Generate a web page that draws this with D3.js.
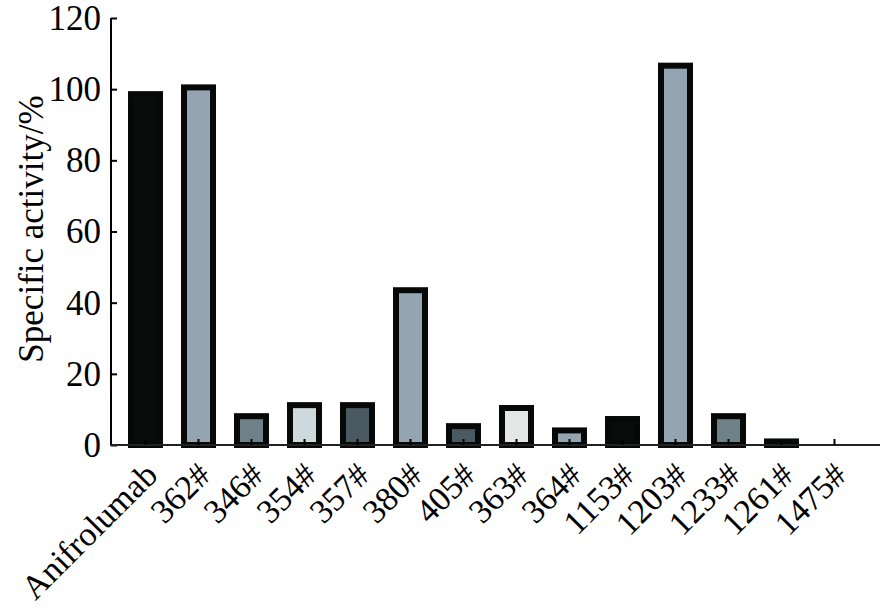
<!DOCTYPE html>
<html><head><meta charset="utf-8">
<script src="https://cdn.jsdelivr.net/npm/d3@7"></script>
<style>body{margin:0;background:#fff}svg{display:block}text{font-family:"Liberation Serif","Times New Roman",serif;fill:#000}</style>
</head><body><svg id="c" width="887" height="612"></svg>
<script>
const categories = ["Anifrolumab","362#","346#","354#","357#","380#","405#","363#","364#","1153#","1203#","1233#","1261#","1475#"];
const values = [98.6,100.5,8.1,11.2,11.2,43.5,5.3,10.4,4.1,7.3,106.6,8.1,1.0,0];
const fills = ["#0a0c0b","#94a4b0","#6e8088","#cdd9da","#4b5a62","#94a4b0","#4b5a62","#e3e8e7","#94a4b0","#0a0c0b","#94a4b0","#6e8088","#94a4b0","#94a4b0"];
const yTicks = [0,20,40,60,80,100,120];

const svg = d3.select("#c");
const y = d3.scaleLinear().domain([0,120]).range([445,18]);
const x = d3.scaleBand().domain(categories).range([119,861]).padding(0);
const barW = 29;

// bars
svg.append("g").selectAll("rect").data(categories.map((c,i)=>({c,v:values[i],f:fills[i]})).filter(d=>d.v>0))
  .join("rect")
  .attr("x", d=>x(d.c)+x.bandwidth()/2-barW/2)
  .attr("width", barW)
  .attr("y", d=>y(d.v))
  .attr("height", d=>y(0)-y(d.v))
  .attr("fill", d=>d.f)
  .attr("stroke", "#060908")
  .attr("stroke-width", 6);

// y axis
const ya = svg.append("g").attr("transform","translate(111,0)")
  .call(d3.axisRight(y).tickValues(yTicks).tickSize(6).tickFormat(""));
ya.select(".domain").remove();
ya.selectAll("line").attr("stroke","#000").attr("stroke-width",2);
svg.append("line").attr("x1",111).attr("x2",111).attr("y1",y(120)).attr("y2",446).attr("stroke","#000").attr("stroke-width",2);
svg.append("g").selectAll("text").data(yTicks).join("text")
  .attr("x",101).attr("y",d=>y(d)).attr("dy","0.34em")
  .attr("text-anchor","end").attr("font-size",35).text(d=>d);

// x axis
svg.append("line").attr("x1",110).attr("x2",880).attr("y1",445).attr("y2",445).attr("stroke","#222").attr("stroke-width",2);
svg.append("g").selectAll("line").data(categories).join("line")
  .attr("x1",d=>x(d)+x.bandwidth()/2).attr("x2",d=>x(d)+x.bandwidth()/2)
  .attr("y1",445).attr("y2",439).attr("stroke","#000").attr("stroke-width",2);
svg.append("g").selectAll("text").data(categories).join("text")
  .attr("transform",d=>`translate(${x(d)+x.bandwidth()/2+14},${477}) rotate(-45)`)
  .attr("text-anchor","end").attr("font-size",34).text(d=>d);

// y label
svg.append("text").attr("transform","translate(43,229) rotate(-90)")
  .attr("text-anchor","middle").attr("font-size",35).text("Specific activity/%");
</script></body></html>
